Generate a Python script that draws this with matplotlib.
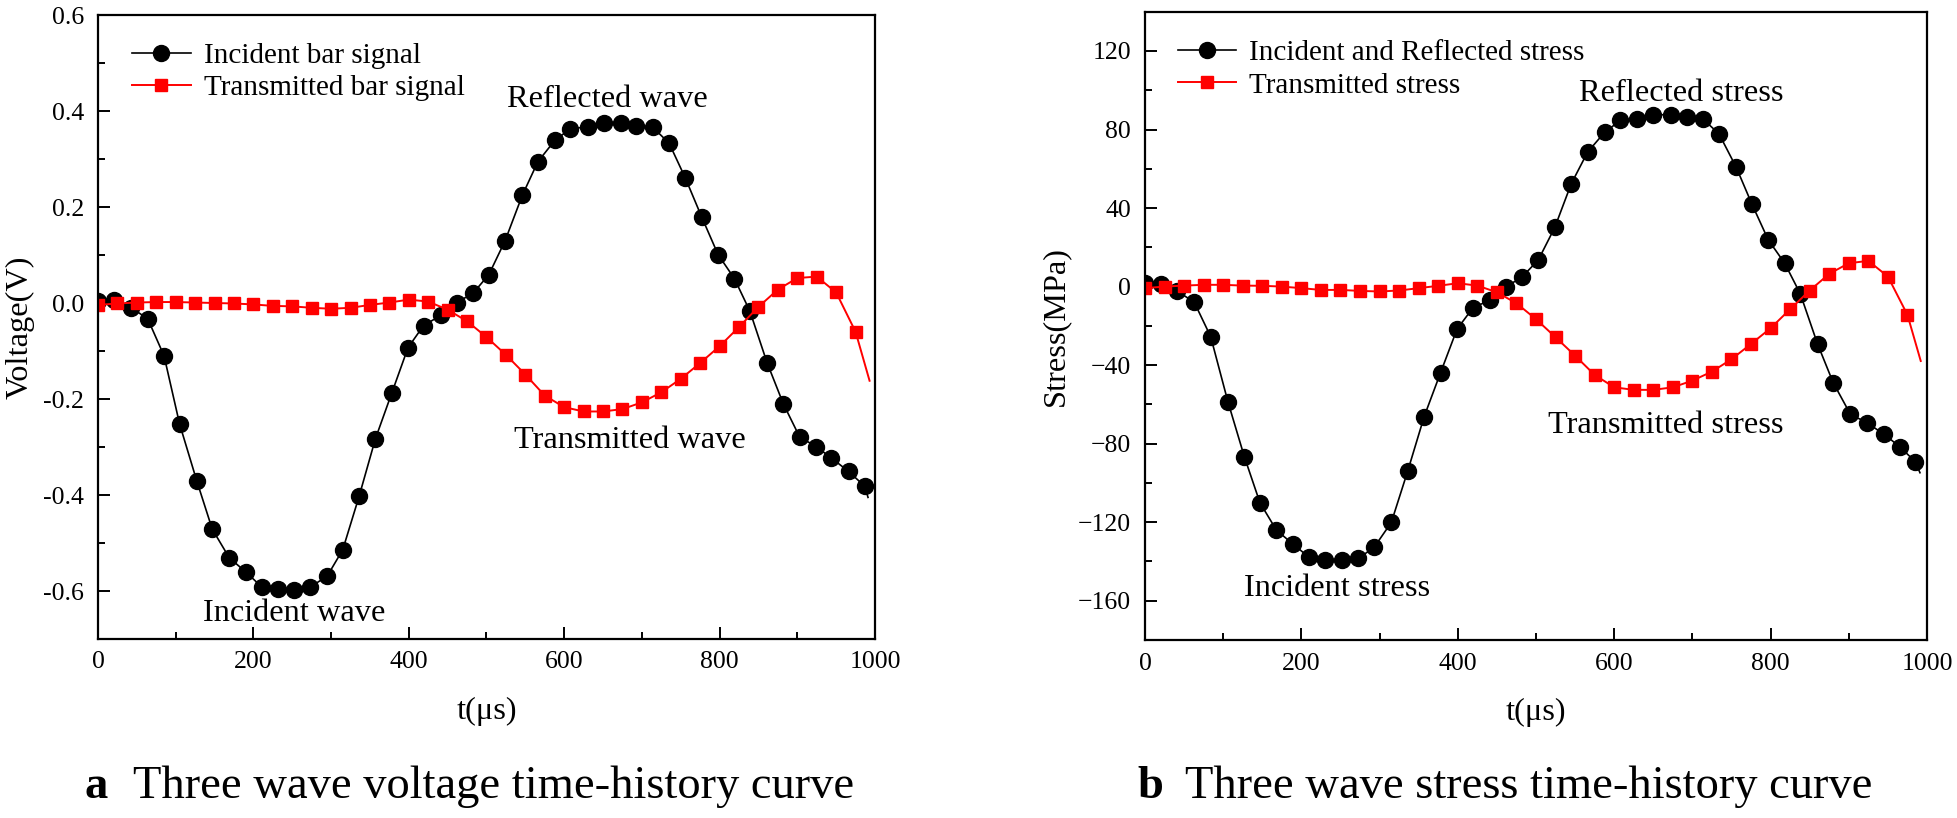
import matplotlib
matplotlib.use("Agg")
import matplotlib.pyplot as plt
from matplotlib.ticker import MultipleLocator, FixedLocator

plt.rcParams['font.family'] = ['Liberation Serif', 'DejaVu Serif']
plt.rcParams['mathtext.fontset'] = 'stix'

# ---------------- (a) voltage ----------------
t_inc_v = [0, 21, 43, 64, 85, 105, 127, 147, 169, 190, 211, 232, 252, 273, 295, 315,
           336, 357, 378, 399, 419, 441, 462, 483, 503, 524, 546, 566, 588, 608, 630,
           651, 673, 692, 714, 735, 756, 777, 798, 819, 839, 861, 882, 903, 924, 944,
           966, 987, 991]
v_inc = [0.005, 0.007, -0.010, -0.033, -0.110, -0.252, -0.370, -0.471, -0.531, -0.560,
         -0.592, -0.596, -0.597, -0.592, -0.569, -0.514, -0.403, -0.283, -0.188, -0.093,
         -0.047, -0.026, 0.001, 0.021, 0.059, 0.130, 0.224, 0.294, 0.339, 0.363, 0.367,
         0.375, 0.376, 0.369, 0.366, 0.333, 0.260, 0.179, 0.101, 0.051, -0.017, -0.124,
         -0.210, -0.279, -0.299, -0.323, -0.351, -0.382, -0.405]

t_tr_v = [0, 25, 50, 75, 100, 125, 150, 175, 200, 225, 250, 275, 300, 325, 350, 375,
          400, 425, 450, 475, 500, 525, 550, 575, 600, 625, 650, 675, 700, 725, 750,
          775, 800, 825, 850, 875, 900, 925, 950, 975, 993]
v_tr = [-0.004, -0.001, 0.001, 0.002, 0.002, 0.001, 0.000, -0.001, -0.003, -0.006,
        -0.007, -0.010, -0.012, -0.010, -0.004, 0.001, 0.007, 0.003, -0.014, -0.038,
        -0.071, -0.108, -0.149, -0.193, -0.217, -0.226, -0.226, -0.221, -0.207, -0.186,
        -0.158, -0.125, -0.090, -0.050, -0.008, 0.028, 0.052, 0.055, 0.022, -0.060, -0.162]

# ---------------- (b) stress ----------------
t_inc_s = [0, 21, 41, 63, 84, 106, 127, 147, 168, 189, 210, 230, 252, 273, 293, 315,
           336, 357, 378, 399, 419, 441, 462, 482, 503, 524, 545, 566, 588, 608, 629,
           650, 672, 693, 713, 734, 756, 776, 797, 818, 838, 860, 880, 902, 923, 945,
           965, 985, 991]
s_inc = [2.0, 1.4, -2.2, -8.0, -25.5, -58.6, -86.6, -110.1, -124.0, -131.1, -137.9,
         -139.3, -139.3, -138.4, -132.8, -120.1, -93.9, -66.2, -43.8, -21.7, -11.0, -6.8,
         0.0, 4.8, 13.6, 30.1, 52.3, 68.5, 78.7, 84.6, 85.5, 87.5, 87.5, 86.3, 85.5, 77.8,
         60.8, 42.1, 23.8, 11.9, -3.7, -29.2, -48.9, -65.0, -69.3, -75.2, -81.5, -89.2,
         -94.8]

t_tr_s = [0, 25, 50, 75, 100, 125, 150, 175, 200, 225, 250, 275, 300, 325, 350, 375,
          400, 425, 450, 475, 500, 525, 550, 575, 600, 625, 650, 675, 700, 725, 750,
          775, 800, 825, 850, 875, 900, 925, 950, 975, 992]
s_tr = [-0.8, 0.0, 0.5, 0.9, 0.9, 0.5, 0.4, 0.0, -0.8, -1.7, -1.7, -2.2, -2.5, -2.0,
        -0.8, 0.4, 1.7, 0.5, -2.9, -8.5, -16.6, -25.8, -35.2, -45.0, -51.3, -52.6, -52.6,
        -51.3, -47.9, -43.3, -37.0, -29.2, -21.2, -11.5, -2.0, 6.5, 11.9, 13.1, 5.1,
        -14.4, -37.9]

W, H = 1958, 818
fig = plt.figure(figsize=(W / 100, H / 100), dpi=100)


def ax_rect(x0, x1, y0, y1):
    return [x0 / W, 1 - y1 / H, (x1 - x0) / W, (y1 - y0) / H]


axA = fig.add_axes(ax_rect(98, 875, 15, 639))
axB = fig.add_axes(ax_rect(1145, 1927, 11.7, 640))

TICK_FS = 18.5
LAB_FS = 23.3
LEG_FS = 21
ANN_FS = 23.3


def style(ax):
    for s in ax.spines.values():
        s.set_linewidth(1.6)
    ax.tick_params(which='both', direction='in', top=False, right=False,
                   labelsize=TICK_FS, width=1.4)
    ax.tick_params(which='major', length=8.5)
    ax.tick_params(which='minor', length=5)
    ax.tick_params(axis='y', pad=10)
    ax.tick_params(axis='x', pad=9)
    ax.set_xlim(0, 1000)
    ax.xaxis.set_major_locator(MultipleLocator(200))
    ax.xaxis.set_minor_locator(MultipleLocator(100))
    ax.set_xlabel('t(μs)', fontsize=LAB_FS, labelpad=17)


def plot_pair(ax, t1, y1, t2, y2, lab1, lab2):
    ax.plot(t1, y1, color='black', lw=1.2, marker='o', ms=11.5,
            markevery=list(range(len(t1) - 1)), label=lab1)
    ax.plot(t2, y2, color='#ff0000', lw=1.4, marker='s', ms=9.3,
            markevery=list(range(len(t2) - 1)), label=lab2)


def legend(ax, x, y):
    ax.legend(loc='upper left', bbox_to_anchor=(x, y), frameon=False,
              fontsize=LEG_FS, handlelength=2.0, handletextpad=0.45, borderpad=0,
              borderaxespad=0, labelspacing=0.2)


# (a)
plot_pair(axA, t_inc_v, v_inc, t_tr_v, v_tr, 'Incident bar signal', 'Transmitted bar signal')
style(axA)
axA.set_ylim(-0.7, 0.6)
axA.yaxis.set_major_locator(FixedLocator([-0.6, -0.4, -0.2, 0.0, 0.2, 0.4, 0.6]))
axA.yaxis.set_minor_locator(MultipleLocator(0.1))
axA.set_yticklabels(['-0.6', '-0.4', '-0.2', '0.0', '0.2', '0.4', '0.6'])
axA.set_ylabel('Voltage(V)', fontsize=LAB_FS, labelpad=6)
axA.text(656, 0.409, 'Reflected wave', fontsize=ANN_FS, ha='center', va='baseline')
axA.text(253, -0.663, 'Incident wave', fontsize=ANN_FS, ha='center', va='baseline')
axA.text(684, -0.302, 'Transmitted wave', fontsize=ANN_FS, ha='center', va='baseline')
legend(axA, 0.044, 0.956)

# (b)
plot_pair(axB, t_inc_s, s_inc, t_tr_s, s_tr, 'Incident and Reflected stress', 'Transmitted stress')
style(axB)
axB.set_ylim(-180, 140)
axB.yaxis.set_major_locator(FixedLocator([-160, -120, -80, -40, 0, 40, 80, 120]))
axB.yaxis.set_minor_locator(MultipleLocator(20))
axB.set_ylabel('Stress(MPa)', fontsize=LAB_FS, labelpad=6)
axB.text(686, 94.3, 'Reflected stress', fontsize=ANN_FS, ha='center', va='baseline')
axB.text(245, -157.6, 'Incident stress', fontsize=ANN_FS, ha='center', va='baseline')
axB.text(666, -74.4, 'Transmitted stress', fontsize=ANN_FS, ha='center', va='baseline')
legend(axB, 0.042, 0.955)

# captions
CAP_FS = 33.5
cap_y = 1 - 798 / H
fig.text(85 / W, cap_y, 'a', fontsize=CAP_FS, fontweight='bold', va='baseline')
fig.text(133 / W, cap_y, 'Three wave voltage time-history curve', fontsize=CAP_FS, va='baseline')
fig.text(1137 / W, cap_y, 'b', fontsize=CAP_FS, fontweight='bold', va='baseline')
fig.text(1185 / W, cap_y, 'Three wave stress time-history curve', fontsize=CAP_FS, va='baseline')

fig.savefig('out.png', dpi=100)
